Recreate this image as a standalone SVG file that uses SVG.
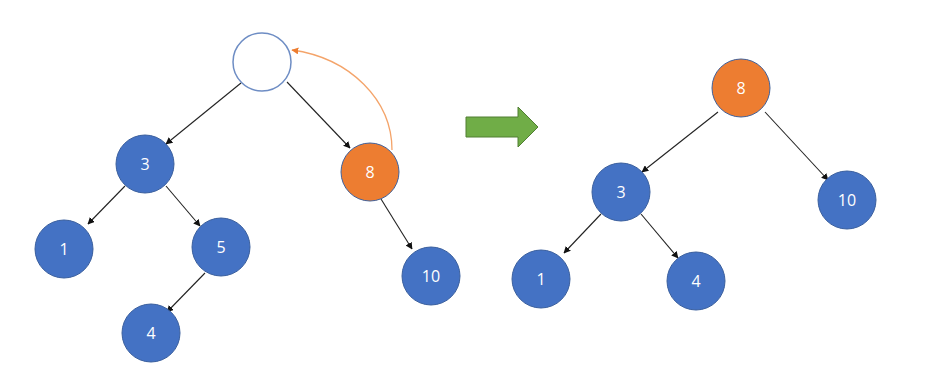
<svg xmlns="http://www.w3.org/2000/svg" width="937" height="381" viewBox="0 0 937 381">
<style>
.n{fill:#4472C4;stroke:#3A5F9E;stroke-width:1}
.o{fill:#ED7D31;stroke:#41619A;stroke-width:1}
.e{fill:#fff;stroke:#6E8DC4;stroke-width:1.5}
.t{font-family:"Open Sans","Noto Sans",sans-serif;font-size:16px;fill:#fff;text-anchor:middle;dominant-baseline:central}
.c{stroke:#222;stroke-width:1.1;fill:none;marker-end:url(#ah)}
</style>
<defs>
<marker id="ah" viewBox="0 0 10 10" refX="9" refY="5" markerWidth="7" markerHeight="7" orient="auto" markerUnits="userSpaceOnUse"><path d="M0,0L10,5L0,10z" fill="#111"/></marker>
<marker id="ao" viewBox="0 0 10 10" refX="9" refY="5" markerWidth="7" markerHeight="7" orient="auto" markerUnits="userSpaceOnUse"><path d="M0,0L10,5L0,10z" fill="#ED7D31"/></marker>
</defs>
<rect width="937" height="381" fill="#fff"/>
<g id="connectors">
<line class="c" x1="241" y1="83" x2="166" y2="144"/>
<line class="c" x1="287" y1="82" x2="350" y2="148"/>
<line class="c" x1="125" y1="186" x2="88" y2="224"/>
<line class="c" x1="166" y1="186" x2="200" y2="226"/>
<line class="c" x1="205" y1="273" x2="167" y2="312"/>
<line class="c" x1="381" y1="199" x2="412" y2="249"/>
<path d="M392,150 C392,100 350,58 292,50" stroke="#F4A46A" stroke-width="1.3" fill="none" marker-end="url(#ao)"/>
<line class="c" x1="718" y1="112" x2="642" y2="172"/>
<line class="c" x1="765" y1="112" x2="828" y2="180"/>
<line class="c" x1="601" y1="214" x2="564" y2="253"/>
<line class="c" x1="641" y1="214" x2="678" y2="258"/>
</g>
<g id="root-empty"><circle class="e" cx="262" cy="62" r="29"/></g>
<g id="L3"><circle class="n" cx="145" cy="164" r="29"/><text class="t" x="145" y="164">3</text></g>
<g id="L8"><circle class="o" cx="370" cy="172" r="29"/><text class="t" x="370" y="172">8</text></g>
<g id="L1"><circle class="n" cx="64" cy="249" r="29"/><text class="t" x="64" y="249">1</text></g>
<g id="L5"><circle class="n" cx="221" cy="247" r="29"/><text class="t" x="221" y="247">5</text></g>
<g id="L10"><circle class="n" cx="431" cy="276" r="29"/><text class="t" x="431" y="276">10</text></g>
<g id="L4"><circle class="n" cx="151" cy="333" r="29"/><text class="t" x="151" y="333">4</text></g>
<g id="arrow"><path d="M466,117H518V107L538,127L518,147V137H466z" fill="#70AD47" stroke="#507E32" stroke-width="1"/></g>
<g id="R8"><circle class="o" cx="741" cy="88" r="29"/><text class="t" x="741" y="88">8</text></g>
<g id="R3"><circle class="n" cx="621" cy="192" r="29"/><text class="t" x="621" y="192">3</text></g>
<g id="R10"><circle class="n" cx="847" cy="200" r="29"/><text class="t" x="847" y="200">10</text></g>
<g id="R1"><circle class="n" cx="541" cy="279" r="29"/><text class="t" x="541" y="279">1</text></g>
<g id="R4"><circle class="n" cx="696" cy="281" r="29"/><text class="t" x="696" y="281">4</text></g>
</svg>
